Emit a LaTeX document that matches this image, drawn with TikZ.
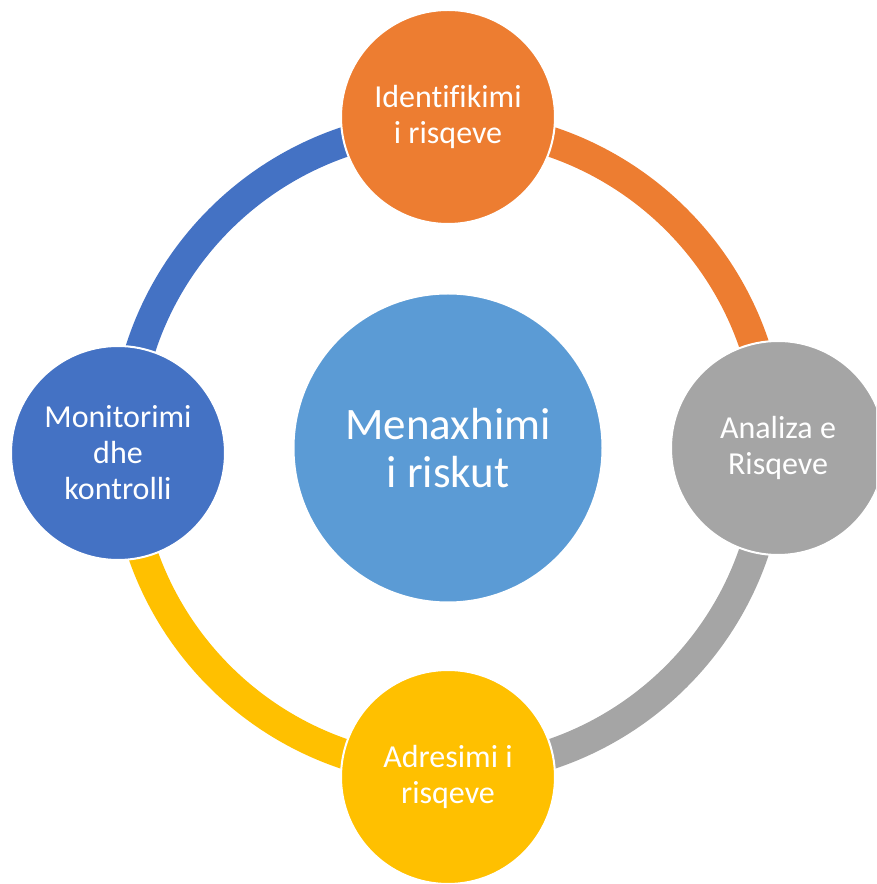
\documentclass[tikz,border=0pt]{standalone}
\usepackage{fontspec}
\setmainfont[Ligatures=NoCommon]{Carlito}
\definecolor{cOrange}{HTML}{ED7D31}
\definecolor{cGray}{HTML}{A5A5A5}
\definecolor{cYellow}{HTML}{FFC000}
\definecolor{cBlue}{HTML}{4472C4}
\definecolor{cCenter}{HTML}{5B9BD5}
\begin{document}
\begin{tikzpicture}[x=1pt,y=1pt,
  ringseg/.style={line width=30pt},
  stage/.style={circle, draw=white, line width=2pt, minimum size=214pt, inner sep=0pt,
    text=white, align=center, font=\fontsize{32pt}{36pt}\selectfont},
  hub/.style={circle, draw=white, line width=2pt, minimum size=309pt, inner sep=0pt,
    text=white, align=center, font=\fontsize{45pt}{48pt}\selectfont}]
\useasboundingbox (0,0) rectangle (876,884);
\clip (0,0) rectangle (876,884);
\coordinate (C) at (448,436);
% ring segments
\draw[ringseg, cOrange] ([shift={(90:323pt)}]C) arc[start angle=90, end angle=0, radius=323pt];
\draw[ringseg, cGray] ([shift={(0:323pt)}]C) arc[start angle=0, end angle=-90, radius=323pt];
\draw[ringseg, cYellow] ([shift={(-90:323pt)}]C) arc[start angle=-90, end angle=-180, radius=323pt];
\draw[ringseg, cBlue] ([shift={(180:323pt)}]C) arc[start angle=180, end angle=90, radius=323pt];
% circles
\node[hub, fill=cCenter] (hubc) at (C) {Menaxhimi\\i riskut};
\node[stage, fill=cOrange] (top) at (448,767) {Identifikimi\\i risqeve};
\node[stage, fill=cGray] (right) at (778,436) {Analiza e\\Risqeve};
\node[stage, fill=cYellow] (bottom) at (448,107) {Adresimi i\\risqeve};
\node[stage, fill=cBlue] (left) at (118,431) {Monitorimi\\dhe\\kontrolli};
\end{tikzpicture}
\end{document}
